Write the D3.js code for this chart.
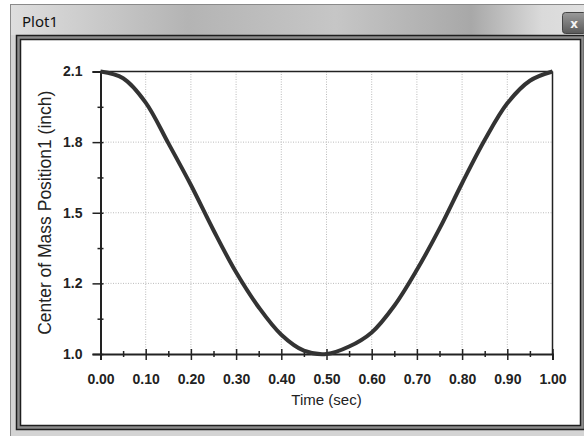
<!DOCTYPE html>
<html>
  <head>
    <meta charset="utf-8">
    <title>Plot1</title>
    <script src="https://d3js.org/d3.v7.min.js"></script>
    <style>
      body { margin: 0; background: #fff; }
      .tick text { font-family: "Liberation Sans", Arial, sans-serif; font-weight: bold; font-size: 14px; fill: #222; }
      .grid line { stroke: #bbb; stroke-dasharray: 1,1.5; }
    </style>
  </head>
  <body>
    <svg width="584" height="436"></svg>

  <script>
    // time samples (sec) and centre of mass position (inch)
    var times = [0, 0.05, 0.10, 0.15, 0.20, 0.25, 0.30, 0.35, 0.40, 0.45, 0.50,
                 0.55, 0.60, 0.65, 0.70, 0.75, 0.80, 0.85, 0.90, 0.95, 1.00];
    var position = [2.100, 2.074, 1.979, 1.821, 1.658, 1.482, 1.318, 1.182, 1.075, 1.013, 1.000,
                    1.029, 1.084, 1.188, 1.328, 1.488, 1.665, 1.833, 1.976, 2.064, 2.100];

    var xTicks = [0, 0.1, 0.2, 0.3, 0.4, 0.5, 0.6, 0.7, 0.8, 0.9, 1.0];
    var xMinor = [0.05, 0.15, 0.25, 0.35, 0.45, 0.55, 0.65, 0.75, 0.85, 0.95];
    var yTicks = [1.0, 1.275, 1.55, 1.825, 2.1];
    var yTickLabels = ["1.0", "1.2", "1.5", "1.8", "2.1"];
    var yMinor = [1.1375, 1.4125, 1.6875, 1.9625];

    var svg = d3.select("svg");

    // window chrome
    var defs = svg.append("defs");
    var tg = defs.append("linearGradient").attr("id", "titlebar");
    tg.append("stop").attr("offset", "0%").attr("stop-color", "#dedede");
    tg.append("stop").attr("offset", "30%").attr("stop-color", "#b4b4b4");
    tg.append("stop").attr("offset", "55%").attr("stop-color", "#c6c6c6");
    tg.append("stop").attr("offset", "78%").attr("stop-color", "#a8a8a8");
    tg.append("stop").attr("offset", "90%").attr("stop-color", "#dadada");
    tg.append("stop").attr("offset", "100%").attr("stop-color", "#e2e2e2");
    var bg = defs.append("linearGradient").attr("id", "closebtn")
      .attr("x1", 0).attr("y1", 0).attr("x2", 0).attr("y2", 1);
    bg.append("stop").attr("offset", "0%").attr("stop-color", "#9a9a9a");
    bg.append("stop").attr("offset", "100%").attr("stop-color", "#5a5a5a");

    svg.append("rect").attr("x", 10.5).attr("y", 4.5).attr("width", 590).attr("height", 450)
      .attr("fill", "#d4d4d4").attr("stroke", "#8a8a8a");
    svg.append("rect").attr("x", 11).attr("y", 5).attr("width", 590).attr("height", 30)
      .attr("fill", "url(#titlebar)");
    svg.append("text").attr("x", 22).attr("y", 27)
      .attr("font-family", "'Noto Sans', 'Open Sans', sans-serif").attr("font-size", "15px")
      .attr("fill", "#111").text("Plot1");
    svg.append("rect").attr("x", 562.5).attr("y", 12.5).attr("width", 24).attr("height", 21)
      .attr("rx", 3).attr("fill", "url(#closebtn)").attr("stroke", "#444");
    svg.append("text").attr("x", 574).attr("y", 27.5).attr("text-anchor", "middle")
      .attr("font-family", "'DejaVu Sans', sans-serif").attr("font-weight", "bold")
      .attr("font-size", "12px").attr("fill", "#f4f4f4").text("x");

    // plot panel with double border
    svg.append("rect").attr("x", 16.5).attr("y", 35.5).attr("width", 568).attr("height", 394)
      .attr("fill", "#8c8c8c").attr("stroke", "#1e1e1e").attr("stroke-width", 1.5);
    svg.append("rect").attr("x", 20.5).attr("y", 39.5).attr("width", 560).attr("height", 386)
      .attr("fill", "#fff").attr("stroke", "#1e1e1e").attr("stroke-width", 1.5);

    // scales
    var x = d3.scaleLinear().domain([0, 1]).range([100.5, 552.5]);
    var y = d3.scaleLinear().domain([1.0, 2.1]).range([354, 71.5]);

    // dotted grid
    var grid = svg.append("g").attr("class", "grid");
    grid.selectAll(".vg").data(xTicks.slice(1, -1)).enter().append("line")
      .attr("x1", function(d) { return x(d); }).attr("x2", function(d) { return x(d); })
      .attr("y1", y(2.1)).attr("y2", y(1.0));
    grid.selectAll(".hg").data(yTicks.slice(1, -1)).enter().append("line")
      .attr("x1", x(0)).attr("x2", x(1))
      .attr("y1", function(d) { return y(d); }).attr("y2", function(d) { return y(d); });

    // frame lines top / right
    svg.append("line").attr("x1", x(0)).attr("x2", x(1)).attr("y1", y(2.1)).attr("y2", y(2.1))
      .attr("stroke", "#222").attr("stroke-width", 1.5);
    svg.append("line").attr("x1", x(1)).attr("x2", x(1)).attr("y1", y(2.1)).attr("y2", y(1.0))
      .attr("stroke", "#222").attr("stroke-width", 1.5);

    // x axis
    var xAxis = svg.append("g").attr("transform", "translate(0," + y(1.0) + ")")
      .call(d3.axisBottom(x).tickValues(xTicks).tickFormat(d3.format(".2f")).tickSize(6).tickPadding(14));
    xAxis.select(".domain").attr("stroke", "#222").attr("stroke-width", 2);
    xAxis.selectAll(".tick line").attr("y1", -5).attr("y2", 6).attr("stroke", "#222").attr("stroke-width", 1.5);
    var xMin = svg.append("g").attr("transform", "translate(0," + y(1.0) + ")")
      .call(d3.axisBottom(x).tickValues(xMinor).tickFormat("").tickSize(3));
    xMin.select(".domain").remove();
    xMin.selectAll(".tick line").attr("y1", -3).attr("y2", 3).attr("stroke", "#222").attr("stroke-width", 1.5);

    svg.append("text").attr("x", (x(0) + x(1)) / 2).attr("y", 405).attr("text-anchor", "middle")
      .attr("font-family", "'Liberation Sans', Arial, sans-serif").attr("font-size", "15px")
      .attr("fill", "#222").text("Time (sec)");

    // y axis
    var yAxis = svg.append("g").attr("transform", "translate(" + x(0) + ",0)")
      .call(d3.axisLeft(y).tickValues(yTicks)
        .tickFormat(function(d, i) { return yTickLabels[i]; }).tickSize(8).tickPadding(10));
    yAxis.select(".domain").attr("stroke", "#222").attr("stroke-width", 2);
    yAxis.selectAll(".tick line").attr("x1", 3).attr("x2", -8).attr("stroke", "#222").attr("stroke-width", 1.5);
    var yMin = svg.append("g").attr("transform", "translate(" + x(0) + ",0)")
      .call(d3.axisLeft(y).tickValues(yMinor).tickFormat("").tickSize(3));
    yMin.select(".domain").remove();
    yMin.selectAll(".tick line").attr("x1", 3).attr("x2", -3).attr("stroke", "#222").attr("stroke-width", 1.5);

    svg.append("text")
      .attr("transform", "translate(51," + ((y(1.0) + y(2.1)) / 2) + ") rotate(-90)")
      .attr("text-anchor", "middle")
      .attr("font-family", "'Liberation Sans', Arial, sans-serif").attr("font-size", "17.5px")
      .attr("fill", "#222").text("Center of Mass Position1 (inch)");

    // curve
    var line = d3.line()
      .x(function(d, i) { return x(times[i]); })
      .y(function(d) { return y(d); })
      .curve(d3.curveCatmullRom.alpha(0.5));
    svg.append("path").datum(position)
      .attr("fill", "none").attr("stroke", "#333").attr("stroke-width", 4)
      .attr("d", line);
  </script>
  </body>
</html>
